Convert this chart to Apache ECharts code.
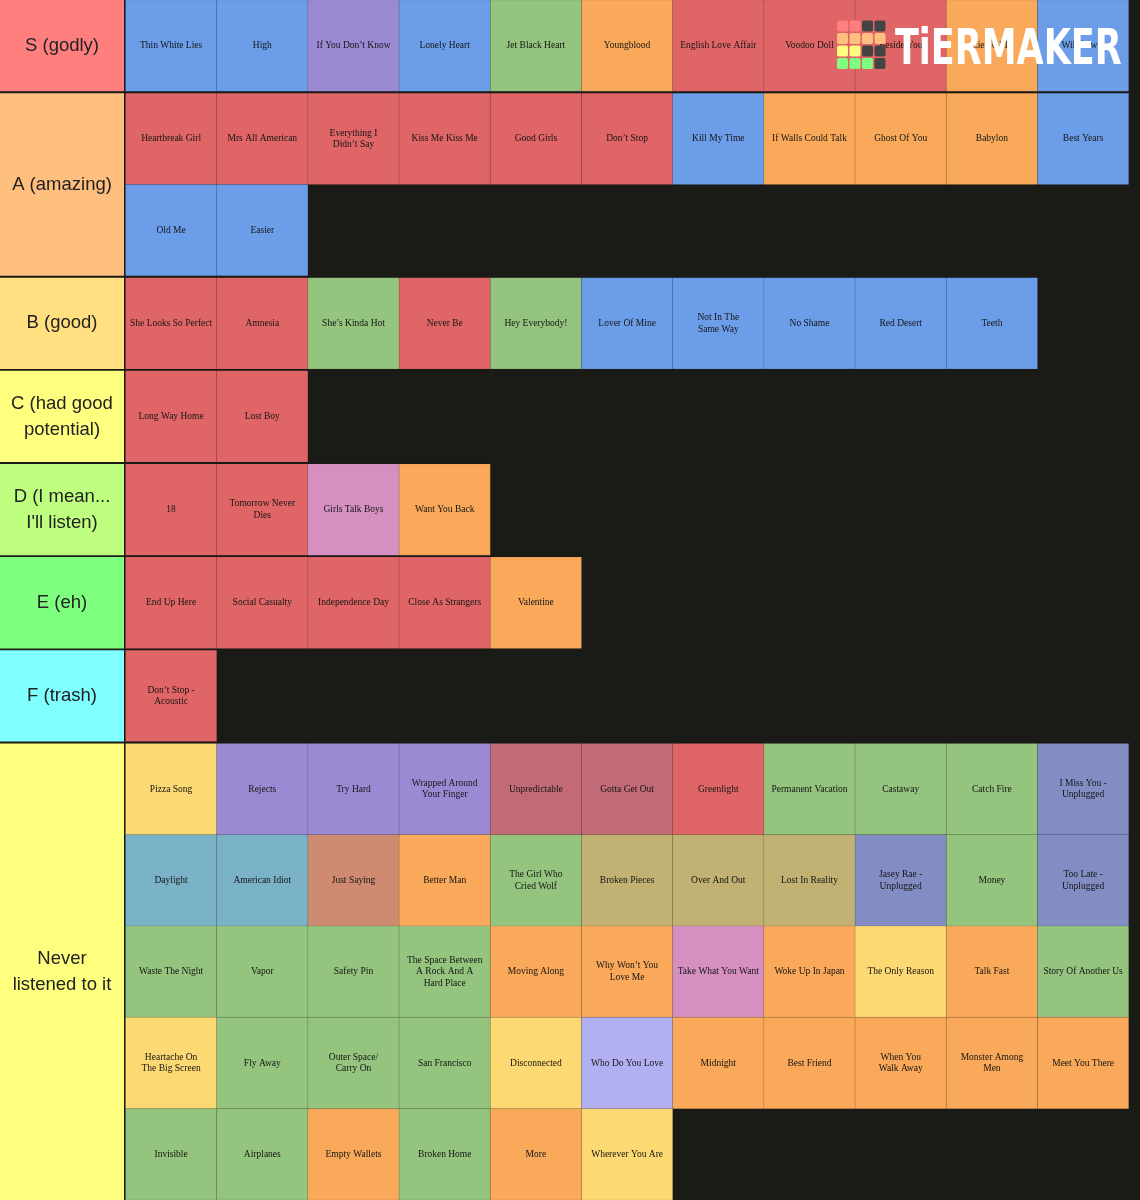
<!DOCTYPE html>
<html>
<head>
<meta charset="utf-8">
<script src="https://cdn.jsdelivr.net/npm/echarts@6/dist/echarts.min.js"></script>
<style>
html,body{margin:0;padding:0;background:#1a1a17;}
#chart{width:1140px;height:1200px;}
</style>
</head>
<body>
<div id="chart"></div>
<script>
// ---- Tier labels ----
const tierNames = ['S (godly)', 'A (amazing)', 'B (good)', 'C (had good\npotential)',
  "D (I mean...\nI'll listen)", 'E (eh)', 'F (trash)', 'Never\nlistened to it'];
const tierColors = ['#ff7f7f', '#ffbf7f', '#ffdf7f', '#ffff7f', '#bfff7f', '#7fff7f', '#7fffff', '#ffff7f'];

// ---- Songs per tier (with tile colour keys) ----
const songsS = ['Thin White Lies', 'High', 'If You Don’t Know', 'Lonely Heart', 'Jet Black Heart',
  'Youngblood', 'English Love Affair', 'Voodoo Doll', 'Beside You', 'Lie To Me', 'Wildflower'];
const keysS = ['B', 'B', 'P', 'B', 'G', 'O', 'R', 'R', 'R', 'O', 'B'];

const songsA = ['Heartbreak Girl', 'Mrs All American', 'Everything I\nDidn’t Say', 'Kiss Me Kiss Me',
  'Good Girls', 'Don’t Stop', 'Kill My Time', 'If Walls Could Talk', 'Ghost Of You', 'Babylon',
  'Best Years', 'Old Me', 'Easier'];
const keysA = ['R', 'R', 'R', 'R', 'R', 'R', 'B', 'O', 'O', 'O', 'B', 'B', 'B'];

const songsB = ['She Looks So Perfect', 'Amnesia', 'She’s Kinda Hot', 'Never Be', 'Hey Everybody!',
  'Lover Of Mine', 'Not In The\nSame Way', 'No Shame', 'Red Desert', 'Teeth'];
const keysB = ['R', 'R', 'G', 'R', 'G', 'B', 'B', 'B', 'B', 'B'];

const songsC = ['Long Way Home', 'Lost Boy'];
const keysC = ['R', 'R'];

const songsD = ['18', 'Tomorrow Never\nDies', 'Girls Talk Boys', 'Want You Back'];
const keysD = ['R', 'R', 'K', 'O'];

const songsE = ['End Up Here', 'Social Casualty', 'Independence Day', 'Close As Strangers', 'Valentine'];
const keysE = ['R', 'R', 'R', 'R', 'O'];

const songsF = ['Don’t Stop -\nAcoustic'];
const keysF = ['R'];

const songsNever = [
  'Pizza Song', 'Rejects', 'Try Hard', 'Wrapped Around\nYour Finger', 'Unpredictable', 'Gotta Get Out',
  'Greenlight', 'Permanent Vacation', 'Castaway', 'Catch Fire', 'I Miss You -\nUnplugged',
  'Daylight', 'American Idiot', 'Just Saying', 'Better Man', 'The Girl Who\nCried Wolf', 'Broken Pieces',
  'Over And Out', 'Lost In Reality', 'Jasey Rae -\nUnplugged', 'Money', 'Too Late -\nUnplugged',
  'Waste The Night', 'Vapor', 'Safety Pin', 'The Space Between\nA Rock And A\nHard Place', 'Moving Along',
  'Why Won’t You\nLove Me', 'Take What You Want', 'Woke Up In Japan', 'The Only Reason', 'Talk Fast',
  'Story Of Another Us',
  'Heartache On\nThe Big Screen', 'Fly Away', 'Outer Space/\nCarry On', 'San Francisco', 'Disconnected',
  'Who Do You Love', 'Midnight', 'Best Friend', 'When You\nWalk Away', 'Monster Among\nMen', 'Meet You There',
  'Invisible', 'Airplanes', 'Empty Wallets', 'Broken Home', 'More', 'Wherever You Are'];
const keysNever = [
  'Y', 'P', 'P', 'P', 'M', 'M', 'R', 'G', 'G', 'G', 'L',
  'T', 'T', 'S', 'O', 'G', 'H', 'H', 'H', 'L', 'G', 'L',
  'G', 'G', 'G', 'G', 'O', 'O', 'K', 'O', 'Y', 'O', 'G',
  'Y', 'G', 'G', 'G', 'Y', 'V', 'O', 'O', 'O', 'O', 'O',
  'G', 'G', 'O', 'G', 'O', 'Y'];

// ---- Tile palette ----
const palette = {
  B: '#6c9de8', R: '#e06567', P: '#9b8ad3', G: '#94c47e', O: '#f9a959', K: '#d590c1',
  Y: '#fdd973', M: '#c26b77', T: '#7ab2c8', S: '#ce8b72', H: '#c1b172', L: '#828dc4', V: '#b3b0f2'
};

const tierSongs = [songsS, songsA, songsB, songsC, songsD, songsE, songsF, songsNever];
const tierKeys = [keysS, keysA, keysB, keysC, keysD, keysE, keysF, keysNever];

// ---- Build layout data (row units) ----
const perRow = 11;
const gap = 0.02;
const labelData = [];
const cellData = [];
const cellInfo = [];
let yPos = 0;
tierSongs.forEach(function (songs, t) {
  const rows = Math.max(1, Math.ceil(songs.length / perRow));
  labelData.push([0, yPos, yPos + rows, t]);
  songs.forEach(function (s, i) {
    const col = i % perRow;
    const r = Math.floor(i / perRow);
    cellData.push([col, yPos + r]);
    cellInfo.push({ name: s, color: palette[tierKeys[t][i]] });
  });
  yPos += rows + gap;
});
const yMax = yPos - gap;

const chart = echarts.init(document.getElementById('chart'), null, { renderer: 'canvas' });

// watermark logo squares
const logoColors = [
  ['#ff7f7f', '#ff7f7f', '#444444', '#444444'],
  ['#ffbf7f', '#ffbf7f', '#ffbf7f', '#ffbf7f'],
  ['#ffff7f', '#ffff7f', '#444444', '#444444'],
  ['#7fff7f', '#7fff7f', '#7fff7f', '#444444']
];
const logoEls = [];
logoColors.forEach(function (row, r) {
  row.forEach(function (c, k) {
    logoEls.push({
      type: 'rect', left: 837 + k * 12.5, top: 20.5 + r * 12.5, z: 100,
      shape: { width: 11, height: 11, r: 2 },
      style: { fill: c }
    });
  });
});
logoEls.push({
  type: 'text', x: 895, y: 26, scaleX: 0.7, z: 100,
  style: {
    text: 'TiERMAKER', x: 0, y: 0, verticalAlign: 'top', align: 'left',
    font: 'bold 50px "DejaVu Sans"', fill: '#ffffff'
  }
});

const option = {
  backgroundColor: '#1a1a17',
  animation: false,
  grid: [
    { left: 0, top: 0, width: 124, height: 1200 },
    { left: 125.5, top: 0, width: 1003.2, height: 1200 }
  ],
  xAxis: [
    { type: 'value', gridIndex: 0, min: 0, max: 1, show: false },
    { type: 'value', gridIndex: 1, min: 0, max: perRow, show: false }
  ],
  yAxis: [
    { type: 'value', gridIndex: 0, min: 0, max: yMax, inverse: true, show: false },
    { type: 'value', gridIndex: 1, min: 0, max: yMax, inverse: true, show: false }
  ],
  graphic: logoEls,
  series: [
    {
      type: 'custom', xAxisIndex: 0, yAxisIndex: 0, silent: true,
      data: labelData,
      renderItem: function (params, api) {
        const p0 = api.coord([0, api.value(1)]);
        const p1 = api.coord([1, api.value(2)]);
        const t = api.value(3);
        return {
          type: 'group',
          children: [
            { type: 'rect', shape: { x: p0[0], y: p0[1], width: p1[0] - p0[0], height: p1[1] - p0[1] },
              style: { fill: tierColors[t] } },
            { type: 'text', style: {
                text: tierNames[t], x: (p0[0] + p1[0]) / 2, y: (p0[1] + p1[1]) / 2,
                align: 'center', verticalAlign: 'middle', lineHeight: 26,
                font: '18.5px "Liberation Sans"', fill: '#222222' } }
          ]
        };
      }
    },
    {
      type: 'custom', xAxisIndex: 1, yAxisIndex: 1, silent: true,
      data: cellData,
      renderItem: function (params, api) {
        const info = cellInfo[params.dataIndex];
        const c = api.value(0), r = api.value(1);
        const p0 = api.coord([c, r]);
        const p1 = api.coord([c + 1, r + 1]);
        return {
          type: 'group',
          children: [
            { type: 'rect', shape: { x: p0[0], y: p0[1], width: p1[0] - p0[0], height: p1[1] - p0[1] },
              style: { fill: info.color, stroke: 'rgba(0,0,0,0.09)', lineWidth: 0.8 } },
            { type: 'text', style: {
                text: info.name, x: (p0[0] + p1[0]) / 2, y: (p0[1] + p1[1]) / 2,
                align: 'center', verticalAlign: 'middle', lineHeight: 11.5,
                font: '9.5px "Liberation Serif"', fill: '#151515' } }
          ]
        };
      }
    }
  ]
};
chart.setOption(option);
</script>
</body>
</html>
